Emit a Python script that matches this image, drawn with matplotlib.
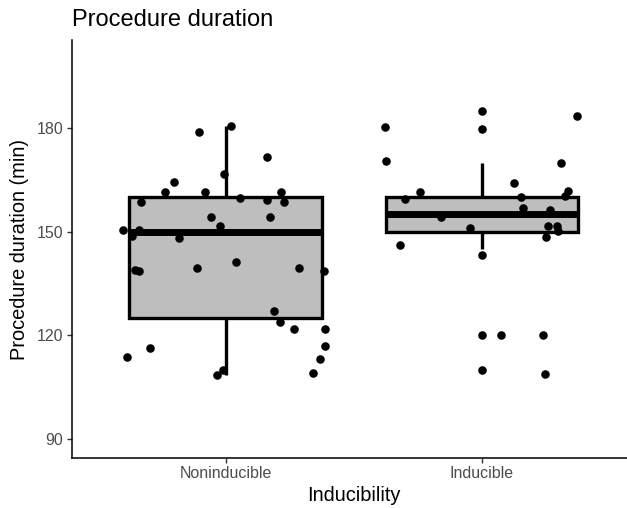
import matplotlib
matplotlib.use("Agg")
import matplotlib.pyplot as plt

plt.rcParams['font.family'] = ['Liberation Sans', 'DejaVu Sans']

categories = ["Noninducible", "Inducible"]

# box statistics
q1 = [125, 150]
median = [150, 155]
q3 = [160, 160]
whislo = [108.4, 145]
whishi = [180.5, 170]

# jittered points: (x offset from category, value)
non_offsets = [-0.105, 0.023, 0.163, -0.004, -0.200, -0.237, -0.081, 0.216, -0.329, 0.057,
               0.163, 0.228, -0.056, 0.173, -0.020, -0.400, -0.366, -0.336, -0.181, -0.355,
               -0.336, -0.111, 0.042, 0.285, 0.384, 0.190, 0.211, 0.267, 0.388, 0.389,
               0.368, 0.340, -0.386, -0.294, -0.009, -0.034]
non_values = [179.0, 180.5, 171.5, 166.7, 164.5, 161.5, 161.4, 161.6, 158.5, 159.9,
              159.3, 158.5, 154.3, 154.2, 151.8, 150.5, 148.8, 150.5, 148.3, 138.8,
              138.6, 139.4, 141.2, 139.6, 138.5, 127.0, 123.8, 121.7, 121.7, 116.9,
              113.3, 109.0, 113.7, 116.3, 109.9, 108.4]
ind_offsets = [-0.378, 0.0, 0.0, 0.370, -0.375, 0.310, 0.125, -0.241, 0.335, 0.325,
               -0.301, 0.154, 0.159, 0.266, -0.159, -0.047, 0.257, 0.292, 0.296, 0.250,
               -0.320, 0.0, 0.0, 0.073, 0.239, 0.0, 0.247]
ind_values = [180.2, 184.9, 179.8, 183.6, 170.5, 169.9, 164.1, 161.6, 161.9, 160.4,
              159.4, 160.1, 156.9, 156.2, 154.2, 151.1, 151.6, 151.6, 150.2, 148.5,
              146.1, 143.4, 120.1, 120.2, 120.0, 110.1, 108.8]

yticks = [90, 120, 150, 180]

W, H = 627, 508
fig = plt.figure(figsize=(W / 100, H / 100), dpi=100)
left, right, top, bottom = 71.7, 627, 40, 458
ax = fig.add_axes([left / W, (H - bottom) / H, (right - left) / W, (bottom - top) / H])

stats = []
for i in range(2):
    stats.append(dict(med=median[i], q1=q1[i], q3=q3[i], whislo=whislo[i],
                      whishi=whishi[i], fliers=[], label=categories[i]))
ax.bxp(stats, positions=[1, 2], widths=0.75, patch_artist=True, showcaps=False,
       showfliers=False,
       boxprops=dict(facecolor='#BEBEBE', edgecolor='black', linewidth=2.4),
       medianprops=dict(color='black', linewidth=5, solid_capstyle='butt'),
       whiskerprops=dict(color='black', linewidth=2.4, solid_capstyle='butt'),
       zorder=2)

ax.scatter([1 + o for o in non_offsets], non_values, s=38, color='black', zorder=3, linewidths=0)
ax.scatter([2 + o for o in ind_offsets], ind_values, s=38, color='black', zorder=3, linewidths=0)

ax.set_xlim(0.4, 2.566)
ax.set_ylim(84.5, 205.5)
ax.set_xticks([1, 2])
ax.set_xticklabels(categories)
ax.set_yticks(yticks)
ax.set_yticklabels([str(v) for v in yticks])

for s in ['top', 'right']:
    ax.spines[s].set_visible(False)
for s in ['left', 'bottom']:
    ax.spines[s].set_linewidth(1.1)
    ax.spines[s].set_color('black')

ax.tick_params(axis='both', length=3.6, width=1.0, color='#333333',
               labelcolor='#4D4D4D', labelsize=11.5, pad=2.5)

ax.set_title("Procedure duration", loc='left', fontsize=17, color='black', pad=10)
ax.set_xlabel("Inducibility", fontsize=14.4, color='black')
ax.set_ylabel("Procedure duration (min)", fontsize=14.4, color='black')
ax.xaxis.set_label_coords((353.6 - left) / (right - left), (bottom - 486) / (bottom - top))
ax.yaxis.set_label_coords((29 - left) / (right - left), 0.5)

fig.savefig("out.png", dpi=100)
